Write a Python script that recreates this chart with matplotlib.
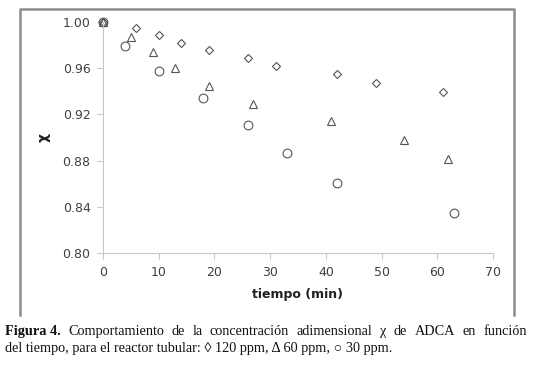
import matplotlib
matplotlib.use("Agg")
import matplotlib.pyplot as plt
from matplotlib.lines import Line2D

# Data
t_120 = [0, 6, 10, 14, 19, 26, 31, 42, 49, 61]
x_120 = [1.000, 0.995, 0.989, 0.982, 0.976, 0.969, 0.962, 0.955, 0.947, 0.939]
t_60 = [0, 5, 9, 13, 19, 27, 41, 54, 62]
x_60 = [1.000, 0.987, 0.974, 0.960, 0.945, 0.929, 0.914, 0.898, 0.881]
t_30 = [0, 4, 10, 18, 26, 33, 42, 63]
x_30 = [1.000, 0.979, 0.958, 0.934, 0.911, 0.887, 0.861, 0.835]

xticks = [0, 10, 20, 30, 40, 50, 60, 70]
yticks = [0.80, 0.84, 0.88, 0.92, 0.96, 1.00]

caption_bold = 'Figura 4.'
caption_line1 = 'Comportamiento de la concentración adimensional χ de ADCA en función'
caption_line2 = 'del tiempo, para el reactor tubular: ◊ 120 ppm, Δ 60 ppm, ○ 30 ppm.'

W, H = 534, 366
fig = plt.figure(figsize=(W / 100, H / 100), dpi=100)
ax = fig.add_axes([103 / W, 1 - 253 / H, (493 - 103) / W, (253 - 22) / H])

mk = dict(linestyle='none', markerfacecolor='none', markeredgecolor='#555555',
          markeredgewidth=0.8, clip_on=False)
ax.plot(t_120, x_120, marker='D', markersize=4.5, **mk)
ax.plot(t_60, x_60, marker='^', markersize=6, **mk)
ax.plot(t_30, x_30, marker='o', markersize=6.3, **mk)

ax.set_xlim(0, 70)
ax.set_ylim(0.80, 1.00)
ax.set_xticks(xticks)
ax.set_xticklabels([str(v) for v in xticks])
ax.set_yticks(yticks)
ax.set_yticklabels([f"{v:.2f}" for v in yticks])
for s in ['top', 'right']:
    ax.spines[s].set_visible(False)
for s in ['left', 'bottom']:
    ax.spines[s].set_color('#c8c8c8')
    ax.spines[s].set_linewidth(0.8)
ax.tick_params(direction='out', length=4, width=0.8, color='#c8c8c8',
               labelsize=9, labelcolor='#404040', pad=5)

ax.set_xlabel('tiempo (min)', fontsize=9, fontweight='bold', color='#202020', labelpad=7)
fig.text(44 / W, 1 - 138 / H, 'χ', rotation=90, fontsize=10, fontweight='bold',
         ha='center', va='center', color='#202020')

# Outer chart frame (left, top, right)
fc = '#8c8c8c'
x0, x1, y0, y1 = 19.5 / W, 514 / W, 1 - 315 / H, 1 - 9 / H
fig.add_artist(Line2D([x0, x0, x1, x1], [y0, y1, y1, y0], transform=fig.transFigure,
                      color=fc, linewidth=1.8))

# Caption: first line justified between x=5 and x=527
serif = ['Liberation Serif', 'DejaVu Serif']
fs = 10.3
renderer = fig.canvas.get_renderer()
words = [(caption_bold, 'bold')] + [(w, 'normal') for w in caption_line1.split(' ')]
texts = []
for w, wt in words:
    t = fig.text(0, 1 - 335 / H, w, fontsize=fs, fontweight=wt, family=serif,
                 color='#111111', va='baseline')
    texts.append(t)
widths = [t.get_window_extent(renderer).width for t in texts]
left, right = 5.0, 527.0
gap = (right - left - sum(widths)) / (len(texts) - 1)
xpos = left
for t, w in zip(texts, widths):
    t.set_x(xpos / W)
    xpos += w + gap

fig.text(5 / W, 1 - 352 / H, caption_line2, fontsize=fs, family=serif,
         color='#111111', va='baseline')

fig.savefig('out.png', dpi=100)
